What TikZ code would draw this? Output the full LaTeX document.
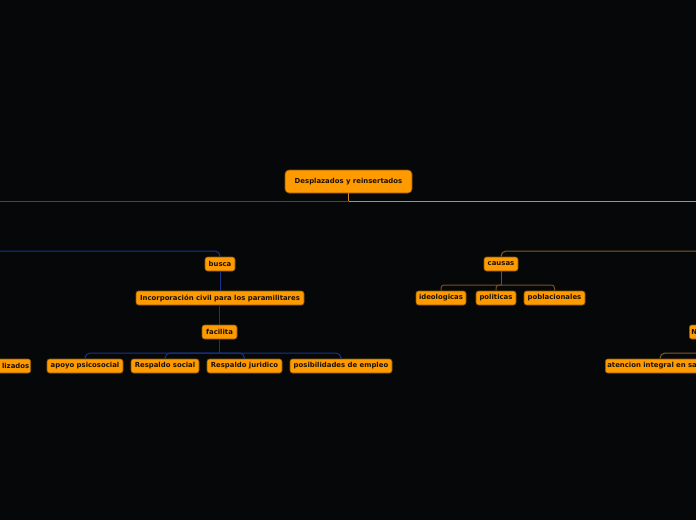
\documentclass[tikz,border=0pt]{standalone}
\usepackage{fontspec}
\setmainfont{DejaVu Sans}
\begin{document}
\begin{tikzpicture}[x=1pt,y=-1pt,
  box/.style={draw=boxline,line width=0.6pt,fill=boxfill,rounded corners=2.5pt,
    inner sep=0pt,minimum height=14pt,text=boxtext,font=\fontsize{6.9}{7.5}\selectfont\bfseries},
  rootbox/.style={box,rounded corners=4pt,minimum height=23pt},
  blueA/.style={draw=blue1,line width=1pt},
  blueB/.style={draw=blue2,line width=1pt,rounded corners=5pt},
  orA/.style={draw=or1,line width=1pt},
  orB/.style={draw=or2,line width=1pt,rounded corners=5pt},
  orC/.style={draw=or3,line width=1pt,rounded corners=3pt}]
\definecolor{bg}{HTML}{060709}
\definecolor{boxfill}{HTML}{FF9A00}
\definecolor{boxline}{HTML}{8A5800}
\definecolor{boxtext}{HTML}{1A1205}
\definecolor{blue1}{HTML}{2045A8}
\definecolor{blue2}{HTML}{18348A}
\definecolor{or1}{HTML}{D08A2E}
\definecolor{or2}{HTML}{845A24}
\definecolor{or3}{HTML}{76501F}
\fill[bg] (0,0) rectangle (696,520);
\useasboundingbox (0,0) rectangle (696,520);
\clip (0,0) rectangle (696,520);

% nodes
\node[rootbox,minimum width=127pt] (root) at (348.5,181.5) {Desplazados y reinsertados};
\node[box,minimum width=30pt] (busca) at (220,264) {busca};
\node[box,minimum width=168pt] (incorp) at (220,298) {Incorporación civil para los paramilitares};
\node[box,minimum width=35pt] (facilita) at (219.5,332) {facilita};
\node[box,minimum width=60pt,text width=57pt,align=right,anchor=east] (lizados) at (31,366) {lizados};
\node[box,minimum width=76pt] (apoyo) at (85,366) {apoyo psicosocial};
\node[box,minimum width=68pt] (rsocial) at (165,366) {Respaldo social};
\node[box,minimum width=75pt] (rjur) at (244.5,366) {Respaldo juridico};
\node[box,minimum width=102pt] (empleo) at (341,366) {posibilidades de empleo};
\node[box,minimum width=34pt] (causas) at (501,264) {causas};
\node[box,minimum width=50pt] (ideo) at (441,298) {ideologicas};
\node[box,minimum width=40pt] (poli) at (496,298) {politicas};
\node[box,minimum width=61pt] (pobl) at (554.5,298) {poblacionales};
\node[box,minimum width=40pt,text width=36pt,align=left,anchor=west] (nnode) at (689,332) {N};
\node[box,minimum width=110pt,text width=106pt,align=left,anchor=west] (aten) at (605,366) {atencion integral en sa};

% free ends
\coordinate (rootjoin) at (348.5,201);
\coordinate (leftA) at (-5,201);
\coordinate (rightA) at (701,201);
\coordinate (leftB) at (-5,251);
\coordinate (rightB) at (701,251);
\coordinate (rightC) at (701,353);

% connectors
\draw[orA] (root.south) -- (rootjoin) -- (rightA);
\draw[blueA] (rootjoin) -- (leftA);
\draw[blueB] (leftB) -- (busca.north |- leftB) -- (busca.north);
\draw[blueB] (busca.south) -- (incorp.north -| busca.south);
\draw[blueB] (incorp.south -| facilita.north) -- (facilita.north);
\coordinate (fj) at (219.5,353);
\draw[blueB] (facilita.south) -- (fj);
\foreach \c in {apoyo,rsocial,rjur,empleo}{
  \draw[blueB] (fj) -- (\c.north |- fj) -- (\c.north);
}
\draw[orB] (rightB) -- (causas.north |- rightB) -- (causas.north);
\coordinate (cj) at (501,285);
\draw[orC] (causas.south) -- (cj);
\foreach \c in {ideo,poli,pobl}{
  \draw[orC] (cj) -- (\c.north |- cj) -- (\c.north);
}
\draw[orB] (rightC) -- (660,353) -- (aten.north -| 660,353);
\end{tikzpicture}
\end{document}
